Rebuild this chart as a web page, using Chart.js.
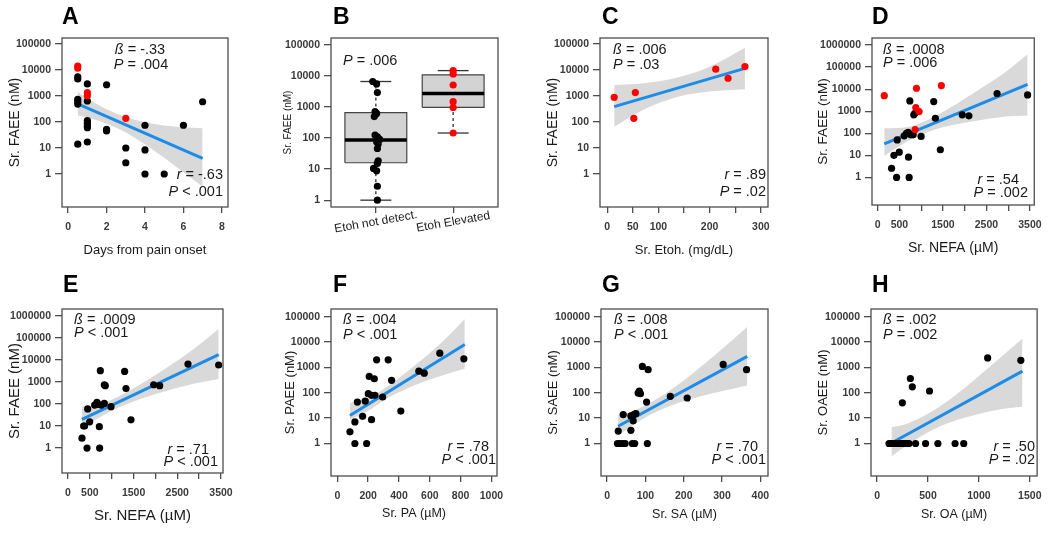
<!DOCTYPE html>
<html>
<head>
<meta charset="utf-8">
<script src="https://cdn.jsdelivr.net/npm/chart.js@4/dist/chart.umd.min.js"></script>
<style>
  body { margin: 0; background: #fff; width: 1050px; height: 534px; position: relative; overflow: hidden; }
  canvas { position: absolute; }
</style>
</head>
<body>
<canvas id="cA"></canvas><canvas id="cB"></canvas><canvas id="cC"></canvas><canvas id="cD"></canvas>
<canvas id="cE"></canvas><canvas id="cF"></canvas><canvas id="cG"></canvas><canvas id="cH"></canvas>
<script>
// ---------- data ----------
const ticksY5 = [1, 10, 100, 1000, 10000, 100000];
const ticksY6 = [1, 10, 100, 1000, 10000, 100000, 1000000];

// A: FAEE vs days from pain onset
const ticksDaysA = [0, 2, 4, 6, 8];
const daysA = [0.5, 0.5, 0.5, 0.5, 0.5, 0.5, 1, 1, 1, 1, 1, 1, 1, 2, 2, 2, 3, 3, 4, 4, 4, 5, 6, 7];
const faeeA = [5500, 4500, 750, 600, 490, 14, 2900, 640, 112, 90, 70, 60, 17, 2700, 52, 45, 10, 2.7, 75, 8.4, 1, 1, 75, 600];
const daysRedA = [0.5, 0.5, 1, 1, 3];
const faeeRedA = [14200, 11700, 1340, 1020, 138];
const fitDaysA = [0.5, 7];
const fitFaeeA = [500, 4];
const bandDaysA = [0.5, 1, 2, 3, 4, 5, 6, 7];
const bandHiA = [1410, 810, 310, 155, 98, 74, 63, 57];
const bandLoA = [178, 148, 85, 39, 13.5, 4.2, 1.17, 0.33];
const statsA = ['ß = -.33', 'P = .004', 'r = -.63', 'P < .001'];

// B: boxplot by ethanol status
const groupsB = ['Etoh not detect.', 'Etoh Elevated'];
const boxNotB = [1, 16, 86, 660, 6600];        // min, q1, median, q3, max
const boxElevB = [145, 970, 2700, 10800, 14800];
const faeeNotB = [6600, 5500, 2900, 710, 620, 490, 125, 110, 90, 76, 64, 46, 18.5, 15.2, 10.5, 8.8, 2.8, 1];
const jitNotB = [-0.04, 0.01, 0.02, -0.01, 0.01, -0.02, -0.01, 0.02, 0.05, 0.01, 0.03, 0.02, 0.03, 0.02, -0.03, 0.01, 0.02, 0.02];
const faeeElevB = [14800, 11500, 5100, 1480, 960, 145];
const jitElevB = [0, 0, 0, 0, 0, 0];
const statsB = ['P = .006'];

// C: FAEE vs serum ethanol
const ticksEtohC = [0, 50, 100, 150, 200, 250, 300];
const labelsEtohC = [0, 50, 100, 200, 300];
const etohC = [13.7, 52, 55, 212, 236, 269];
const faeeC = [890, 138, 1350, 10700, 4800, 13500];
const fitEtohC = [13.7, 269];
const fitFaeeC = [390, 11500];
const bandEtohC = [13.7, 70, 140, 200, 269];
const bandHiC = [2650, 3100, 5300, 13400, 72000];
const bandLoC = [66, 290, 950, 1480, 1800];
const statsC = ['ß = .006', 'P = .03', 'r = .89', 'P = .02'];

// D: FAEE vs NEFA (all)
const ticksNefa = [0, 500, 1000, 1500, 2000, 2500, 3000, 3500];
const labelsNefa = [0, 500, 1500, 2500, 3500];
const nefaD = [320, 374, 435, 450, 496, 610, 663, 700, 709, 724, 740, 763, 816, 831, 854, 999, 1289, 1327, 1441, 1944, 2097, 2745, 3447];
const faeeD = [2.6, 10, 1, 50, 14, 77, 100, 110, 8.3, 1, 2950, 85, 85, 690, 810, 72, 2750, 480, 18, 690, 620, 6300, 5500];
const nefaRedD = [152, 877, 892, 953, 1464, 861];
const faeeRedD = [5100, 1470, 11000, 970, 14500, 148];
const fitNefaD = [152, 3447];
const fitFaeeD = [33, 16600];
const bandNefaD = [152, 700, 1000, 1500, 2200, 2900, 3447];
const bandHiD = [170, 195, 302, 933, 6600, 52500, 380000];
const bandLoD = [9.6, 45, 87, 186, 350, 560, 640];
const statsD = ['ß = .0008', 'P = .006', 'r = .54', 'P = .002'];

// E: FAEE vs NEFA (no ethanol)
const nefaE = [320, 358, 380, 435, 450, 496, 610, 663, 686, 717, 724, 740, 762, 831, 831, 854, 984, 1296, 1327, 1441, 1960, 2097, 2745, 3447];
const faeeE = [2.8, 10, 10, 1, 59, 15.5, 89, 117, 95, 9.3, 1, 3200, 89, 105, 740, 670, 75, 2960, 500, 19, 740, 670, 6400, 5800];
const fitNefaE = [320, 3447];
const fitFaeeE = [20, 17000];
const bandNefaE = [320, 700, 1000, 1500, 2200, 2900, 3447];
const bandHiE = [75, 95, 155, 513, 3630, 33000, 245000];
const bandLoE = [8.7, 23, 49, 129, 363, 832, 1340];
const statsE = ['ß = .0009', 'P < .001', 'r = .71', 'P < .001'];

// F: PAEE vs PA
const ticksPaF = [0, 200, 400, 600, 800, 1000];
const paF = [82, 114, 114, 130, 164, 181, 190, 201, 207, 222, 222, 240, 244, 255, 294, 330, 352, 412, 529, 564, 665, 821];
const paeeF = [2.9, 7.1, 1, 43, 11.8, 47, 1, 92, 440, 8.7, 79, 357, 79, 1990, 68, 1990, 310, 19, 710, 590, 3630, 2180];
const fitPaF = [82, 827];
const fitPaeeF = [12.6, 8000];
const bandPaF = [82, 200, 300, 400, 550, 700, 827];
const bandHiF = [40, 62, 138, 380, 2040, 13200, 81000];
const bandLoF = [8.7, 19.5, 50, 105, 257, 525, 890];
const statsF = ['ß = .004', 'P < .001', 'r = .78', 'P < .001'];

// G: SAEE vs SA
const ticksSaG = [0, 100, 200, 300, 400];
const saG = [27, 29, 33, 40, 42, 47, 62, 62, 66, 68, 70, 72, 75, 81, 84, 87, 92, 103, 105, 107, 165, 209, 303, 364];
const saeeG = [1, 3.1, 1, 1, 13.8, 1, 3.3, 12.2, 1, 7.8, 13.8, 1, 15, 98, 117, 92, 1090, 43, 1, 810, 72, 62, 1310, 810];
const fitSaG = [28.7, 366];
const fitSaeeG = [4.8, 2700];
const bandSaG = [28.7, 60, 100, 150, 220, 290, 366];
const bandHiG = [13, 17.4, 32, 89, 525, 3900, 40000];
const bandLoG = [2.1, 4.4, 10.7, 24.5, 57.5, 107, 195];
const statsG = ['ß = .008', 'P < .001', 'r = .70', 'P < .001'];

// H: OAEE vs OA
const ticksOaH = [0, 500, 1000, 1500];
const oaH = [117, 134, 150, 166, 183, 199, 215, 232, 248, 264, 281, 297, 313, 378, 476, 597, 766, 851, 248, 327, 346, 515, 1086, 1412];
const oaeeH = [1, 1, 1, 1, 1, 1, 1, 1, 1, 1, 1, 1, 1, 1, 1, 1, 1, 1, 40, 365, 172, 117, 2350, 1900];
const fitOaH = [141, 1428];
const fitOaeeH = [1.05, 710];
const bandOaH = [141, 300, 500, 700, 1000, 1200, 1428];
const bandHiH = [4.4, 6.2, 14.8, 49, 457, 2240, 13600];
const bandLoH = [0.31, 0.89, 2.8, 6.5, 14.5, 22, 28];
const statsH = ['ß = .002', 'P = .002', 'r = .50', 'P = .02'];

// ---------- styling ----------
const FONT = '"Liberation Sans", Arial, sans-serif';
const BLUE = 'rgb(28,140,232)';
const BAND = '#d9d9d9';
const BLACK = '#000';
const RED = '#ff0000';
const INK = '#1a1a1a';
const TICK = '#3a3a3a';
const FRAME = '#4d4d4d';
Chart.defaults.font.family = FONT;

function xy(xs, ys) { return xs.map((x, i) => ({ x: x, y: ys[i] })); }

function dots(xs, ys, color) {
  return { data: xy(xs, ys), showLine: false, pointRadius: 3.6, pointBackgroundColor: color,
           pointBorderColor: color, pointBorderWidth: 0 };
}
function seg(xs, ys, color, width, dash) {
  return { data: xy(xs, ys), showLine: true, borderColor: color, borderWidth: width,
           borderDash: dash || [], pointRadius: 0, fill: false };
}
function band(xs, hi, lo) {
  return [
    { data: xy(xs, hi), showLine: true, borderColor: 'rgba(0,0,0,0)', borderWidth: 0, pointRadius: 0,
      cubicInterpolationMode: 'monotone', fill: '+1', backgroundColor: BAND },
    { data: xy(xs, lo), showLine: true, borderColor: 'rgba(0,0,0,0)', borderWidth: 0, pointRadius: 0,
      cubicInterpolationMode: 'monotone', fill: false }
  ];
}
function regression(groups, fx, fy, bx, hi, lo) {
  const sets = groups.map(g => dots(g[0], g[1], g[2]));
  sets.push(seg(fx, fy, BLUE, 3));
  return sets.concat(band(bx, hi, lo));
}
function boxplot(pos, s) {
  const [mn, q1, md, q3, mx] = s;
  const h = 0.4, c = 0.2;
  return {
    front: [seg([pos - h, pos + h], [md, md], '#000', 3.5)],
    back: [
      seg([pos, pos], [q3, mx], '#333', 1.3, [3, 3]),
      seg([pos, pos], [mn, q1], '#333', 1.3, [3, 3]),
      seg([pos - c, pos + c], [mx, mx], '#333', 1.3),
      seg([pos - c, pos + c], [mn, mn], '#333', 1.3),
      seg([pos - h, pos + h, pos + h, pos - h, pos - h], [q1, q1, q3, q3, q1], '#444', 1.2),
      { data: xy([pos - h, pos + h], [q3, q3]), showLine: true, borderColor: 'rgba(0,0,0,0)', borderWidth: 0,
        pointRadius: 0, fill: '+1', backgroundColor: '#d3d3d3' },
      { data: xy([pos - h, pos + h], [q1, q1]), showLine: true, borderColor: 'rgba(0,0,0,0)', borderWidth: 0,
        pointRadius: 0, fill: false }
    ]
  };
}
function showOnly(list) { return v => (list.includes(v) ? String(v) : ''); }

const boxA = boxplot(1, boxNotB), boxB = boxplot(2, boxElevB);

// ---------- panels (page coordinates) ----------
const panels = [
  { id: 'cA', box: [0, 0, 262, 267], area: [62, 38, 228, 207], xr: [-0.32, 8.32], yr: [-1.27, 5.23],
    xTicks: ticksDaysA, yTicks: ticksY5,
    xTitle: 'Days from pain onset', xTitleY: 250, xTitleSize: 13,
    yTitle: 'Sr. FAEE (nM)', yTitleX: 15, yTitleSize: 14, letter: ['A', 62, 18],
    notes: statsA, notePos: [[140, 50, 'center'], [141, 65, 'center'], [223, 175, 'right'], [223, 192, 'right']],
    datasets: regression([[daysRedA, faeeRedA, RED], [daysA, faeeA, BLACK]], fitDaysA, fitFaeeA, bandDaysA, bandHiA, bandLoA) },
  { id: 'cB', box: [262, 0, 263, 267], area: [331, 38, 498, 207], xr: [0.42, 2.58], yr: [-0.22, 5.22],
    xTicks: [1, 2], yTicks: ticksY5, xLabel: () => '', cats: groupsB, catY: 222,
    yTitle: 'Sr. FAEE (nM)', yTitleX: 288, yTitleSize: 10, letter: ['B', 333, 18],
    notes: statsB, notePos: [[343, 61, 'left']],
    datasets: [dots(jitElevB.map(j => 2 + j), faeeElevB, RED), dots(jitNotB.map(j => 1 + j), faeeNotB, BLACK)]
      .concat(boxA.front, boxB.front, boxA.back, boxB.back) },
  { id: 'cC', box: [525, 0, 260, 267], area: [600, 38, 768, 207], xr: [-14, 314], yr: [-1.27, 5.23],
    xTicks: ticksEtohC, xLabel: showOnly(labelsEtohC), yTicks: ticksY5,
    xTitle: 'Sr. Etoh. (mg/dL)', xTitleY: 250, xTitleSize: 13,
    yTitle: 'Sr. FAEE (nM)', yTitleX: 553, yTitleSize: 14, letter: ['C', 602, 18],
    notes: statsC, notePos: [[613, 50, 'left'], [613, 65, 'left'], [766, 175, 'right'], [766, 192, 'right']],
    datasets: regression([[etohC, faeeC, RED]], fitEtohC, fitFaeeC, bandEtohC, bandHiC, bandLoC) },
  { id: 'cD', box: [785, 0, 265, 267], area: [872, 38, 1035, 205], xr: [-130, 3600], yr: [-1.25, 6.32],
    xTicks: ticksNefa, xLabel: showOnly(labelsNefa), yTicks: ticksY6,
    xTitle: 'Sr. NEFA (\u00b5M)', xTitleY: 248, xTitleSize: 14,
    yTitle: 'Sr. FAEE (nM)', yTitleX: 823, yTitleSize: 13.5, letter: ['D', 872, 18],
    notes: statsD, notePos: [[883, 50, 'left'], [883, 63, 'left'], [1019, 180, 'right'], [1028, 193, 'right']],
    datasets: regression([[nefaRedD, faeeRedD, RED], [nefaD, faeeD, BLACK]], fitNefaD, fitFaeeD, bandNefaD, bandHiD, bandLoD) },
  { id: 'cE', box: [0, 267, 262, 267], area: [62, 309, 223, 473], xr: [-137, 3546], yr: [-1.13, 6.30],
    xTicks: ticksNefa, xLabel: showOnly(labelsNefa), yTicks: ticksY6,
    xTitle: 'Sr. NEFA (\u00b5M)', xTitleY: 516, xTitleSize: 15,
    yTitle: 'Sr. FAEE (nM)', yTitleX: 15, yTitleSize: 15, letter: ['E', 63, 286],
    notes: statsE, notePos: [[74, 320, 'left'], [74, 333, 'left'], [209, 450, 'right'], [218, 462, 'right']],
    datasets: regression([[nefaE, faeeE, BLACK]], fitNefaE, fitFaeeE, bandNefaE, bandHiE, bandLoE) },
  { id: 'cF', box: [262, 267, 263, 267], area: [331, 309, 497, 476], xr: [-41, 1036], yr: [-1.28, 5.30],
    xTicks: ticksPaF, yTicks: ticksY5,
    xTitle: 'Sr. PA (\u00b5M)', xTitleY: 514, xTitleSize: 12.5,
    yTitle: 'Sr. PAEE (nM)', yTitleX: 290, yTitleSize: 13, letter: ['F', 333, 286],
    notes: statsF, notePos: [[343, 320, 'left'], [343, 335, 'left'], [489, 447, 'right'], [496, 460, 'right']],
    datasets: regression([[paF, paeeF, BLACK]], fitPaF, fitPaeeF, bandPaF, bandHiF, bandLoF) },
  { id: 'cG', box: [525, 267, 260, 267], area: [601, 309, 768, 476], xr: [-16, 420], yr: [-1.28, 5.30],
    xTicks: ticksSaG, yTicks: ticksY5,
    xTitle: 'Sr. SA (\u00b5M)', xTitleY: 515, xTitleSize: 12.5,
    yTitle: 'Sr. SAEE (nM)', yTitleX: 553, yTitleSize: 13, letter: ['G', 602, 286],
    notes: statsG, notePos: [[614, 320, 'left'], [614, 335, 'left'], [758, 447, 'right'], [766, 460, 'right']],
    datasets: regression([[saG, saeeG, BLACK]], fitSaG, fitSaeeG, bandSaG, bandHiG, bandLoG) },
  { id: 'cH', box: [785, 267, 265, 267], area: [871, 309, 1038, 476], xr: [-60, 1572], yr: [-1.28, 5.30],
    xTicks: ticksOaH, yTicks: ticksY5,
    xTitle: 'Sr. OA (\u00b5M)', xTitleY: 515, xTitleSize: 12.5,
    yTitle: 'Sr. OAEE (nM)', yTitleX: 823, yTitleSize: 13, letter: ['H', 872, 286],
    notes: statsH, notePos: [[883, 320, 'left'], [883, 335, 'left'], [1035, 447, 'right'], [1035, 460, 'right']],
    datasets: regression([[oaH, oaeeH, BLACK]], fitOaH, fitOaeeH, bandOaH, bandHiH, bandLoH) }
];

// frame, letter, stats text and category labels
function decorations(p) {
  const [bx, by] = p.box;
  return {
    id: 'deco',
    afterDatasetsDraw(chart) {
      const a = chart.chartArea, ctx = chart.ctx;
      ctx.save();
      ctx.strokeStyle = FRAME;
      ctx.lineWidth = 1.3;
      ctx.strokeRect(a.left, a.top, a.right - a.left, a.bottom - a.top);
      ctx.restore();
    },
    afterDraw(chart) {
      const ctx = chart.ctx;
      ctx.save();
      ctx.fillStyle = '#000';
      ctx.textBaseline = 'middle';
      ctx.textAlign = 'left';
      ctx.font = 'bold 23px ' + FONT;
      ctx.fillText(p.letter[0], p.letter[1] - bx, p.letter[2] - by);

      const size = 14.5;
      ctx.fillStyle = INK;
      p.notes.forEach((t, i) => {
        const [x, y, align] = p.notePos[i];
        const head = t.slice(0, 1), rest = t.slice(1);
        ctx.font = 'italic ' + size + 'px ' + FONT;
        const w1 = ctx.measureText(head).width;
        ctx.font = size + 'px ' + FONT;
        const w2 = ctx.measureText(rest).width;
        let sx = x - bx;
        if (align === 'right') sx -= w1 + w2;
        if (align === 'center') sx -= (w1 + w2) / 2;
        ctx.font = 'italic ' + size + 'px ' + FONT;
        ctx.fillText(head, sx, y - by);
        ctx.font = size + 'px ' + FONT;
        ctx.fillText(rest, sx + w1, y - by);
      });

      if (p.cats) {
        ctx.font = '12px ' + FONT;
        ctx.fillStyle = INK;
        ctx.textAlign = 'center';
        p.cats.forEach((c, i) => {
          const x = chart.scales.x.getPixelForValue(i + 1);
          ctx.save();
          ctx.translate(x, p.catY - by);
          ctx.rotate(-10 * Math.PI / 180);
          ctx.fillText(c, 0, 0);
          ctx.restore();
        });
      }
      ctx.restore();
    }
  };
}

function makePanel(p) {
  const [bx, by, bw, bh] = p.box;
  const [l, t, r, b] = p.area;
  const cv = document.getElementById(p.id);
  cv.width = bw; cv.height = bh;
  cv.style.left = bx + 'px'; cv.style.top = by + 'px';
  const yLH = p.yTitleSize * 1.2;
  const xLH = (p.xTitleSize || 12) * 1.2;
  return new Chart(cv, {
    type: 'scatter',
    data: { datasets: p.datasets },
    options: {
      responsive: false,
      animation: false,
      events: [],
      layout: { padding: { left: 0, top: t - by, right: bx + bw - r, bottom: 0 } },
      plugins: { legend: { display: false }, tooltip: { enabled: false } },
      scales: {
        x: {
          type: 'linear', bounds: 'data', min: p.xr[0], max: p.xr[1],
          afterFit: s => { s.height = by + bh - b; },
          afterBuildTicks: s => { s.ticks = p.xTicks.map(v => ({ value: v })); },
          grid: { drawOnChartArea: false, drawTicks: true, tickLength: 6, color: FRAME, lineWidth: 1.3 },
          border: { display: false },
          ticks: { autoSkip: false, maxRotation: 0, minRotation: 0, padding: 8, color: TICK,
                   font: { size: 10.5, weight: 'bold' }, callback: p.xLabel || (v => String(v)) },
          title: { display: !!p.xTitle, text: p.xTitle || '', color: INK, font: { size: p.xTitleSize || 12 },
                   padding: { top: 0, bottom: by + bh - (p.xTitleY || 0) - xLH / 2 } }
        },
        y: {
          type: 'logarithmic', bounds: 'data', min: Math.pow(10, p.yr[0]), max: Math.pow(10, p.yr[1]),
          afterFit: s => { s.width = l - bx; },
          afterBuildTicks: s => { s.ticks = p.yTicks.map(v => ({ value: v })); },
          grid: { drawOnChartArea: false, drawTicks: true, tickLength: 7, color: FRAME, lineWidth: 1.3 },
          border: { display: false },
          ticks: { autoSkip: false, padding: 4, color: TICK, font: { size: 10.5, weight: 'bold' },
                   callback: v => String(v) },
          title: { display: true, text: p.yTitle, color: INK, font: { size: p.yTitleSize },
                   padding: { top: p.yTitleX - bx - yLH / 2, bottom: 0 } }
        }
      }
    },
    plugins: [decorations(p)]
  });
}

panels.forEach(makePanel);
</script>
</body>
</html>
